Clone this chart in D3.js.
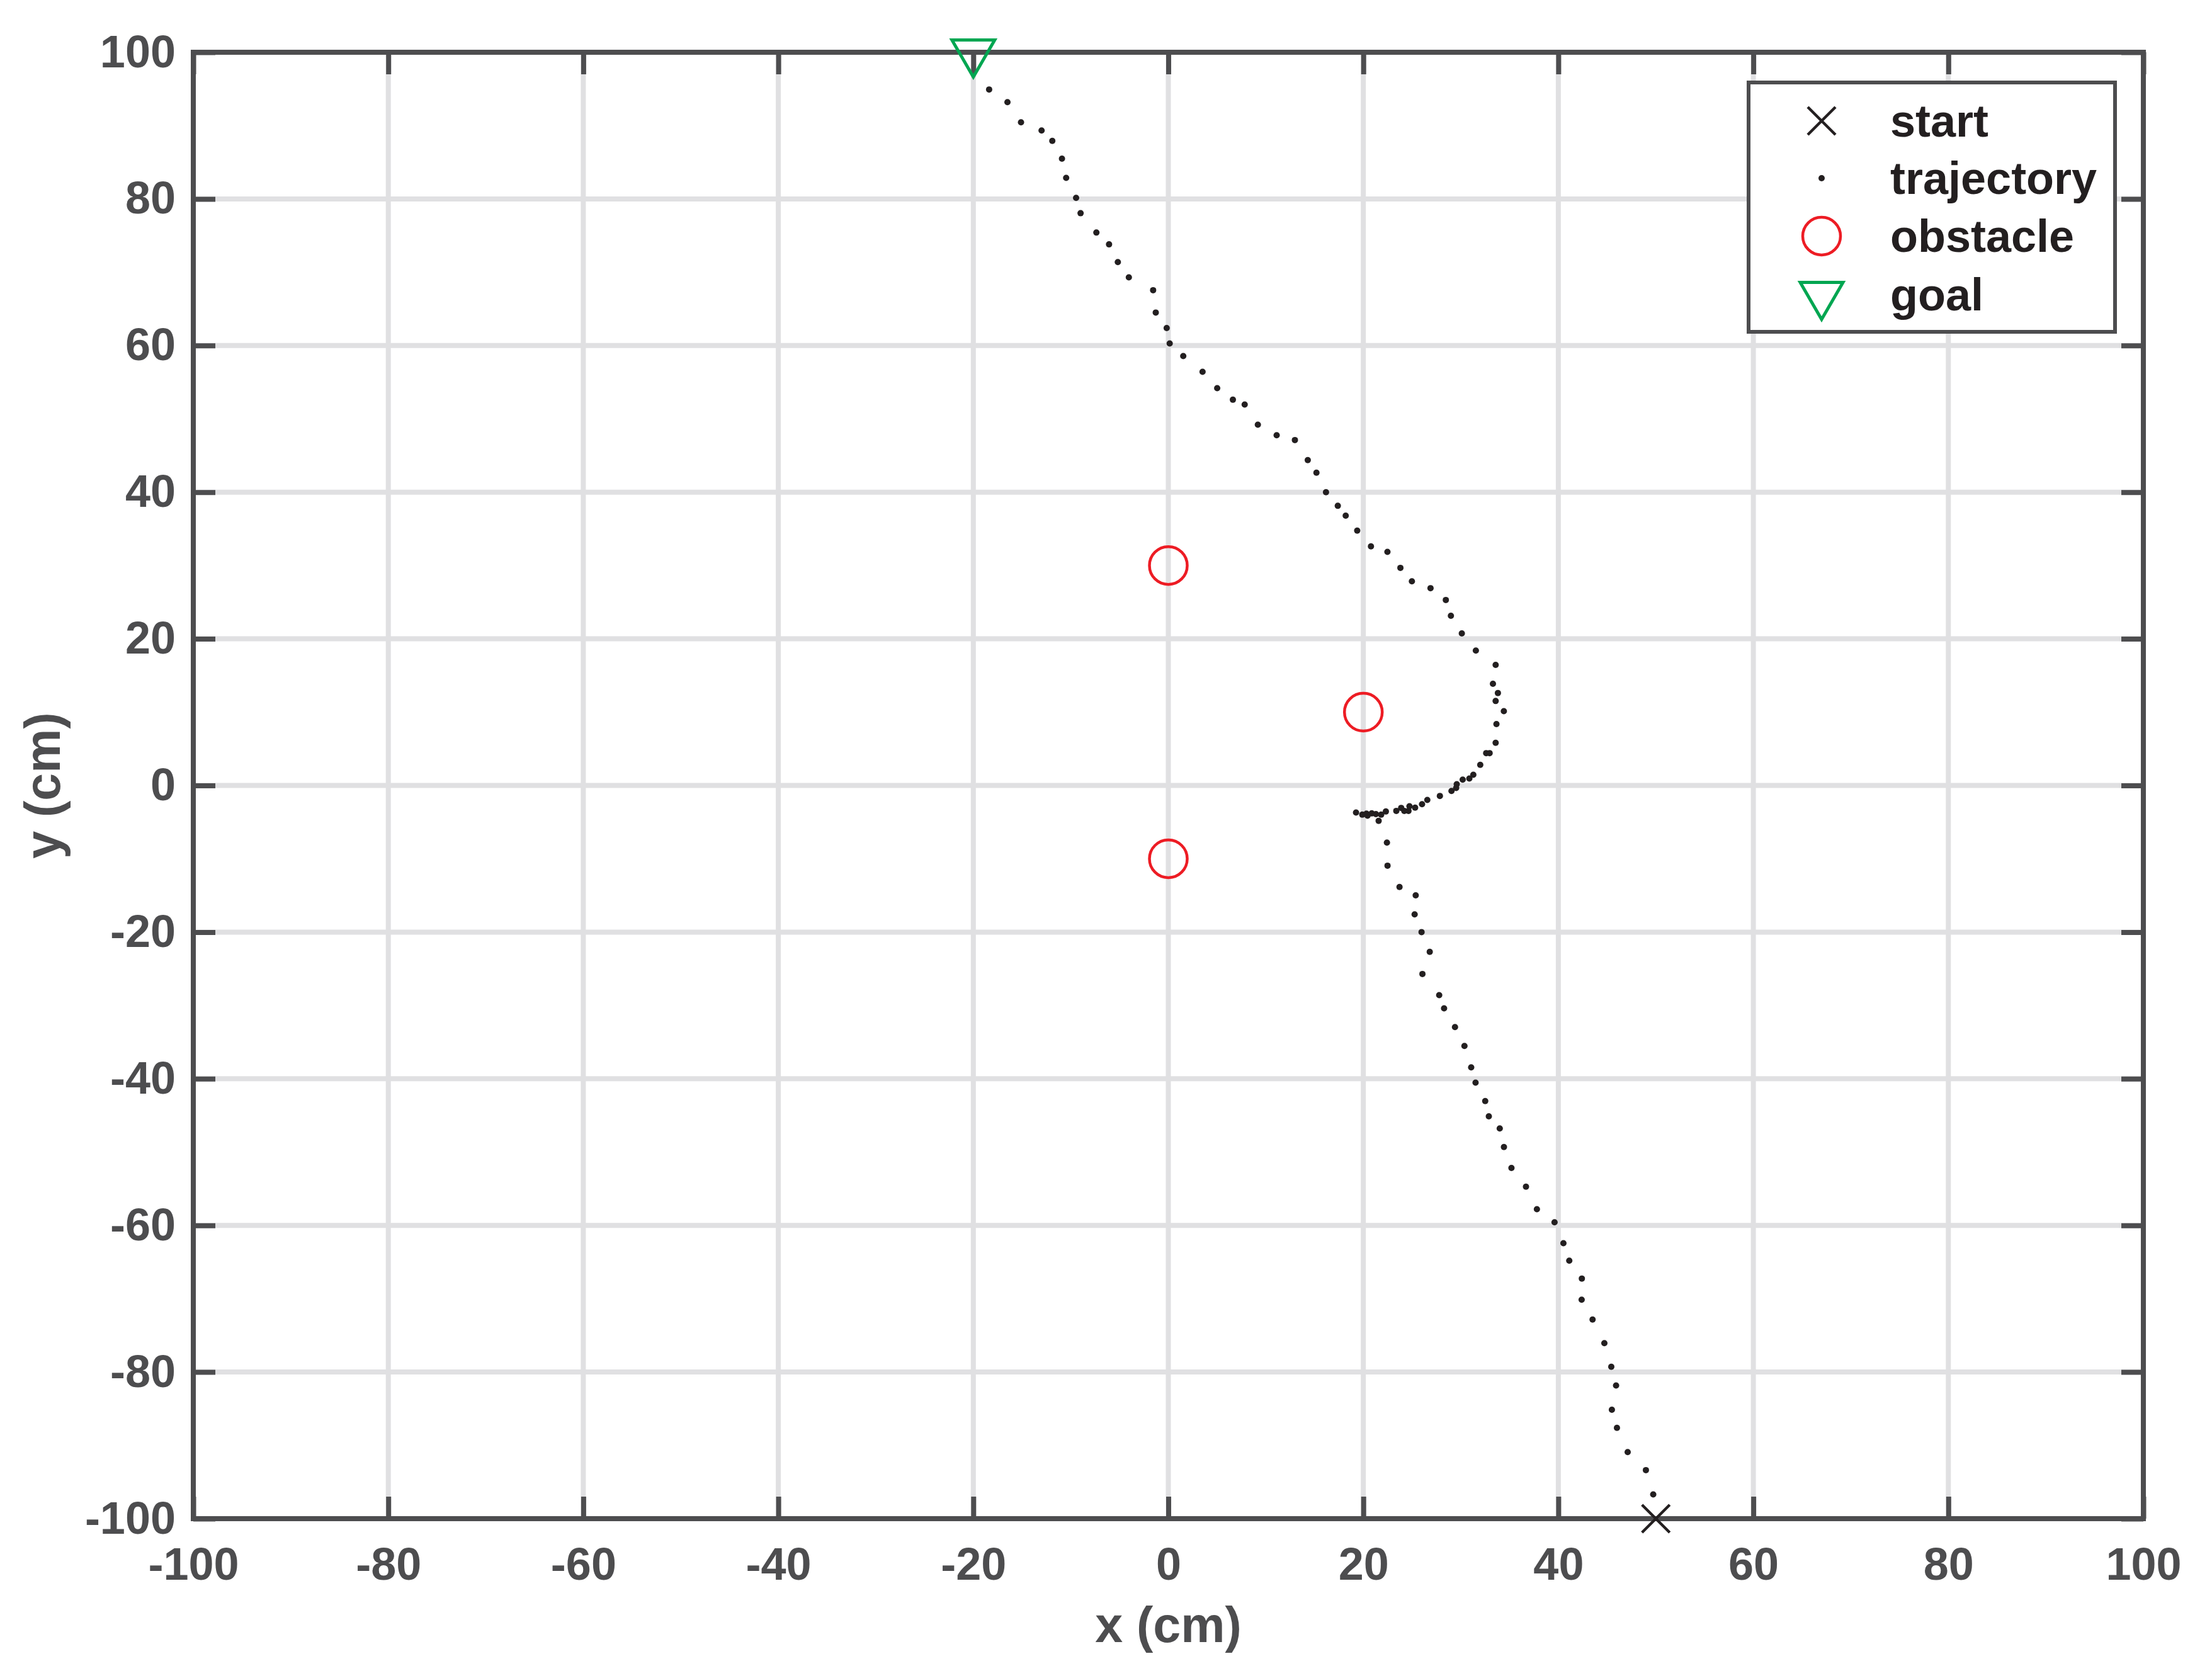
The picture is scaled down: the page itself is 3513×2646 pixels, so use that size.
<!DOCTYPE html>
<html>
<head>
<meta charset="utf-8">
<script src="https://cdn.jsdelivr.net/npm/d3@7"></script>
<style>
  html, body { margin: 0; padding: 0; background: #ffffff; }
  svg text { font-family: "Liberation Sans", Arial, Helvetica, sans-serif; font-weight: bold; }
</style>
</head>
<body>
<div id="viz"></div>
<script>
/*################
#      DATA      #
##################*/

// trajectory samples, from the start point up to the goal (cm)
var trajX = [49.73, 48.98, 47.11, 46.01, 45.49, 45.92, 45.43, 44.72, 43.51, 42.39,
             42.41, 41.12, 40.52, 39.61, 37.80, 36.68, 35.19, 34.42, 33.99, 32.87,
             32.50, 31.51, 31.06, 30.37, 29.40, 28.28, 27.78, 26.06, 26.81, 25.97,
             25.26, 25.37, 23.71, 22.48, 22.42, 21.57,
             19.25, 19.89, 20.32, 20.43, 20.86, 21.29, 21.83, 22.31, 23.38, 23.88,
             24.20, 24.63, 24.73, 25.31, 26.02, 26.56, 27.85, 29.04, 29.52, 29.58,
             30.19, 30.87, 31.28, 31.99, 32.60, 32.95, 33.57, 33.65, 34.41, 33.57,
             33.80, 33.29, 33.57, 31.54, 30.10, 28.98, 28.46, 26.89, 24.98, 23.80,
             22.47, 20.78, 19.37, 18.19, 17.38, 16.17, 15.19, 14.30, 12.98, 11.11,
             9.18, 7.83, 6.62, 5.01, 3.51, 1.53, 0.14, -0.17, -1.29, -1.56,
             -4.05, -5.18, -6.08, -7.38, -9.00, -9.46, -10.48, -10.91, -11.90, -13.00,
             -15.11, -16.50, -18.38];
var trajY = [-96.69, -93.38, -90.92, -87.61, -85.15, -81.84, -79.28, -76.07, -72.85, -70.13,
             -67.25, -64.82, -62.43, -59.57, -57.80, -54.72, -52.17, -49.32, -46.78, -45.13,
             -43.04, -40.54, -38.45, -35.53, -32.96, -30.40, -28.59, -25.71, -22.69, -20.00,
             -17.59, -14.99, -13.85, -10.94, -7.80, -4.82,
             -3.69, -3.98, -3.84, -4.12, -3.81, -3.90, -3.98, -3.55, -3.47, -3.06,
             -3.47, -3.47, -2.83, -3.03, -2.55, -1.98, -1.43, -0.75, -0.34, 0.17,
             0.80, 0.95, 1.46, 2.81, 4.41, 4.41, 5.82, 8.37, 10.14, 11.52,
             12.61, 13.87, 16.45, 18.40, 20.74, 23.15, 25.30, 26.91, 27.85, 29.68,
             31.86, 32.61, 34.76, 36.79, 38.14, 40.00, 42.66, 44.38, 47.11, 47.77,
             49.20, 51.95, 52.61, 54.18, 56.42, 58.57, 60.29, 62.38, 64.50, 67.55,
             69.30, 71.39, 73.80, 75.41, 78.05, 80.14, 82.87, 85.48, 87.92, 89.33,
             90.44, 93.20, 94.92];

var obstacleX = [0, 20, 0];
var obstacleY = [30, 10, -10];

var startPoint = [50, -100];
var goalPoint = [-20, 100];

var xTicks = [-100, -80, -60, -40, -20, 0, 20, 40, 60, 80, 100];
var xTickLabels = ["-100", "-80", "-60", "-40", "-20", "0", "20", "40", "60", "80", "100"];
var yTicks = [-100, -80, -60, -40, -20, 0, 20, 40, 60, 80, 100];
var yTickLabels = ["-100", "-80", "-60", "-40", "-20", "0", "20", "40", "60", "80", "100"];

var legendLabels = ["start", "trajectory", "obstacle", "goal"];

/*################
#       D3       #
##################*/

const W = 3513, H = 2646;
const margin = {top: 83, right: 109, bottom: 234, left: 307};
const axisColor = "#4d4d4f",
      gridColor = "#e0e0e2",
      inkColor = "#231f20",
      redColor = "#ed1c24",
      greenColor = "#00a651";

const svg = d3.select("#viz").append("svg")
    .attr("width", W)
    .attr("height", H)
    .style("display", "block")
    .style("background-color", "#ffffff");

var x = d3.scaleLinear().domain([-100, 100]).range([margin.left, W - margin.right]);
var y = d3.scaleLinear().domain([-100, 100]).range([H - margin.bottom, margin.top]);

// grid lines
var grid = svg.append("g").attr("class", "grid");
grid.selectAll(".vgrid").data(xTicks).enter().append("line")
    .attr("x1", function(d) { return x(d); })
    .attr("x2", function(d) { return x(d); })
    .attr("y1", y(-100)).attr("y2", y(100))
    .attr("stroke", gridColor).attr("stroke-width", 8);
grid.selectAll(".hgrid").data(yTicks).enter().append("line")
    .attr("y1", function(d) { return y(d); })
    .attr("y2", function(d) { return y(d); })
    .attr("x1", x(-100)).attr("x2", x(100))
    .attr("stroke", gridColor).attr("stroke-width", 8);

// axes (ticks point inward, on all four sides)
function styleAxis(g) {
    g.select(".domain").remove();
    g.selectAll(".tick line").attr("stroke", axisColor).attr("stroke-width", 8);
    g.selectAll(".tick text").attr("fill", axisColor).attr("font-size", 72);
}

svg.append("g")
    .attr("transform", "translate(0," + y(-100) + ")")
    .call(d3.axisBottom(x).tickValues(xTicks)
        .tickFormat(function(d, i) { return xTickLabels[i]; })
        .tickSize(-35).tickPadding(46))
    .call(styleAxis);

svg.append("g")
    .attr("transform", "translate(0," + y(100) + ")")
    .call(d3.axisTop(x).tickValues(xTicks).tickFormat("").tickSize(-35))
    .call(styleAxis);

svg.append("g")
    .attr("transform", "translate(" + x(-100) + ",0)")
    .call(d3.axisLeft(y).tickValues(yTicks)
        .tickFormat(function(d, i) { return yTickLabels[i]; })
        .tickSize(-35).tickPadding(28))
    .call(styleAxis);

svg.append("g")
    .attr("transform", "translate(" + x(100) + ",0)")
    .call(d3.axisRight(y).tickValues(yTicks).tickFormat("").tickSize(-35))
    .call(styleAxis);

// box round the plot
svg.append("rect")
    .attr("x", x(-100)).attr("y", y(100))
    .attr("width", x(100) - x(-100))
    .attr("height", y(-100) - y(100))
    .attr("fill", "none")
    .attr("stroke", axisColor)
    .attr("stroke-width", 8);

// axis labels
svg.append("text")
    .attr("x", (x(-100) + x(100)) / 2)
    .attr("y", 2608)
    .attr("text-anchor", "middle")
    .attr("font-size", 79)
    .attr("fill", axisColor)
    .text("x (cm)");

svg.append("text")
    .attr("transform", "translate(95," + y(0) + ") rotate(-90)")
    .attr("text-anchor", "middle")
    .attr("font-size", 79)
    .attr("fill", axisColor)
    .text("y (cm)");

// trajectory dots
var trajectory = trajX.map(function(d, i) { return [d, trajY[i]]; });
svg.append("g")
    .selectAll("circle")
    .data(trajectory)
    .enter()
    .append("circle")
    .attr("cx", function(d) { return x(d[0]); })
    .attr("cy", function(d) { return y(d[1]); })
    .attr("r", 5)
    .attr("fill", inkColor);

// obstacles
var obstacles = obstacleX.map(function(d, i) { return [d, obstacleY[i]]; });
svg.append("g")
    .selectAll("circle")
    .data(obstacles)
    .enter()
    .append("circle")
    .attr("cx", function(d) { return x(d[0]); })
    .attr("cy", function(d) { return y(d[1]); })
    .attr("r", 30)
    .attr("fill", "none")
    .attr("stroke", redColor)
    .attr("stroke-width", 4.5);

// marker shapes
var tri = d3.symbol().type(d3.symbolTriangle).size(2000);
function crossPath(cx, cy, r) {
    return "M" + (cx - r) + "," + (cy - r) + "L" + (cx + r) + "," + (cy + r) +
           "M" + (cx - r) + "," + (cy + r) + "L" + (cx + r) + "," + (cy - r);
}

// start
svg.append("path")
    .attr("d", crossPath(x(startPoint[0]), y(startPoint[1]), 22))
    .attr("stroke", inkColor)
    .attr("stroke-width", 4.5)
    .attr("fill", "none");

// goal
svg.append("path")
    .attr("d", tri())
    .attr("transform", "translate(" + x(goalPoint[0]) + "," + y(goalPoint[1]) + ") rotate(180)")
    .attr("fill", "none")
    .attr("stroke", greenColor)
    .attr("stroke-width", 5);

/*################
#     Legend     #
##################*/
var legend = svg.append("g").attr("class", "legend");
legend.append("rect")
    .attr("x", 2777).attr("y", 131)
    .attr("width", 582).attr("height", 396)
    .attr("fill", "#ffffff")
    .attr("stroke", axisColor)
    .attr("stroke-width", 6);

var rowY = [192, 283, 375, 468];
var markX = 2893;

legend.append("path")
    .attr("d", crossPath(markX, rowY[0], 22))
    .attr("stroke", inkColor).attr("stroke-width", 4.5).attr("fill", "none");
legend.append("circle")
    .attr("cx", markX).attr("cy", rowY[1]).attr("r", 5)
    .attr("fill", inkColor);
legend.append("circle")
    .attr("cx", markX).attr("cy", rowY[2]).attr("r", 30)
    .attr("fill", "none").attr("stroke", redColor).attr("stroke-width", 4.5);
legend.append("path")
    .attr("d", tri())
    .attr("transform", "translate(" + markX + "," + rowY[3] + ") rotate(180)")
    .attr("fill", "none").attr("stroke", greenColor).attr("stroke-width", 5);

legend.selectAll(".lbl")
    .data(legendLabels)
    .enter()
    .append("text")
    .attr("class", "lbl")
    .attr("x", 3002)
    .attr("y", function(d, i) { return rowY[i] + 25; })
    .attr("font-size", 72)
    .attr("fill", inkColor)
    .text(function(d) { return d; });
</script>
</body>
</html>
